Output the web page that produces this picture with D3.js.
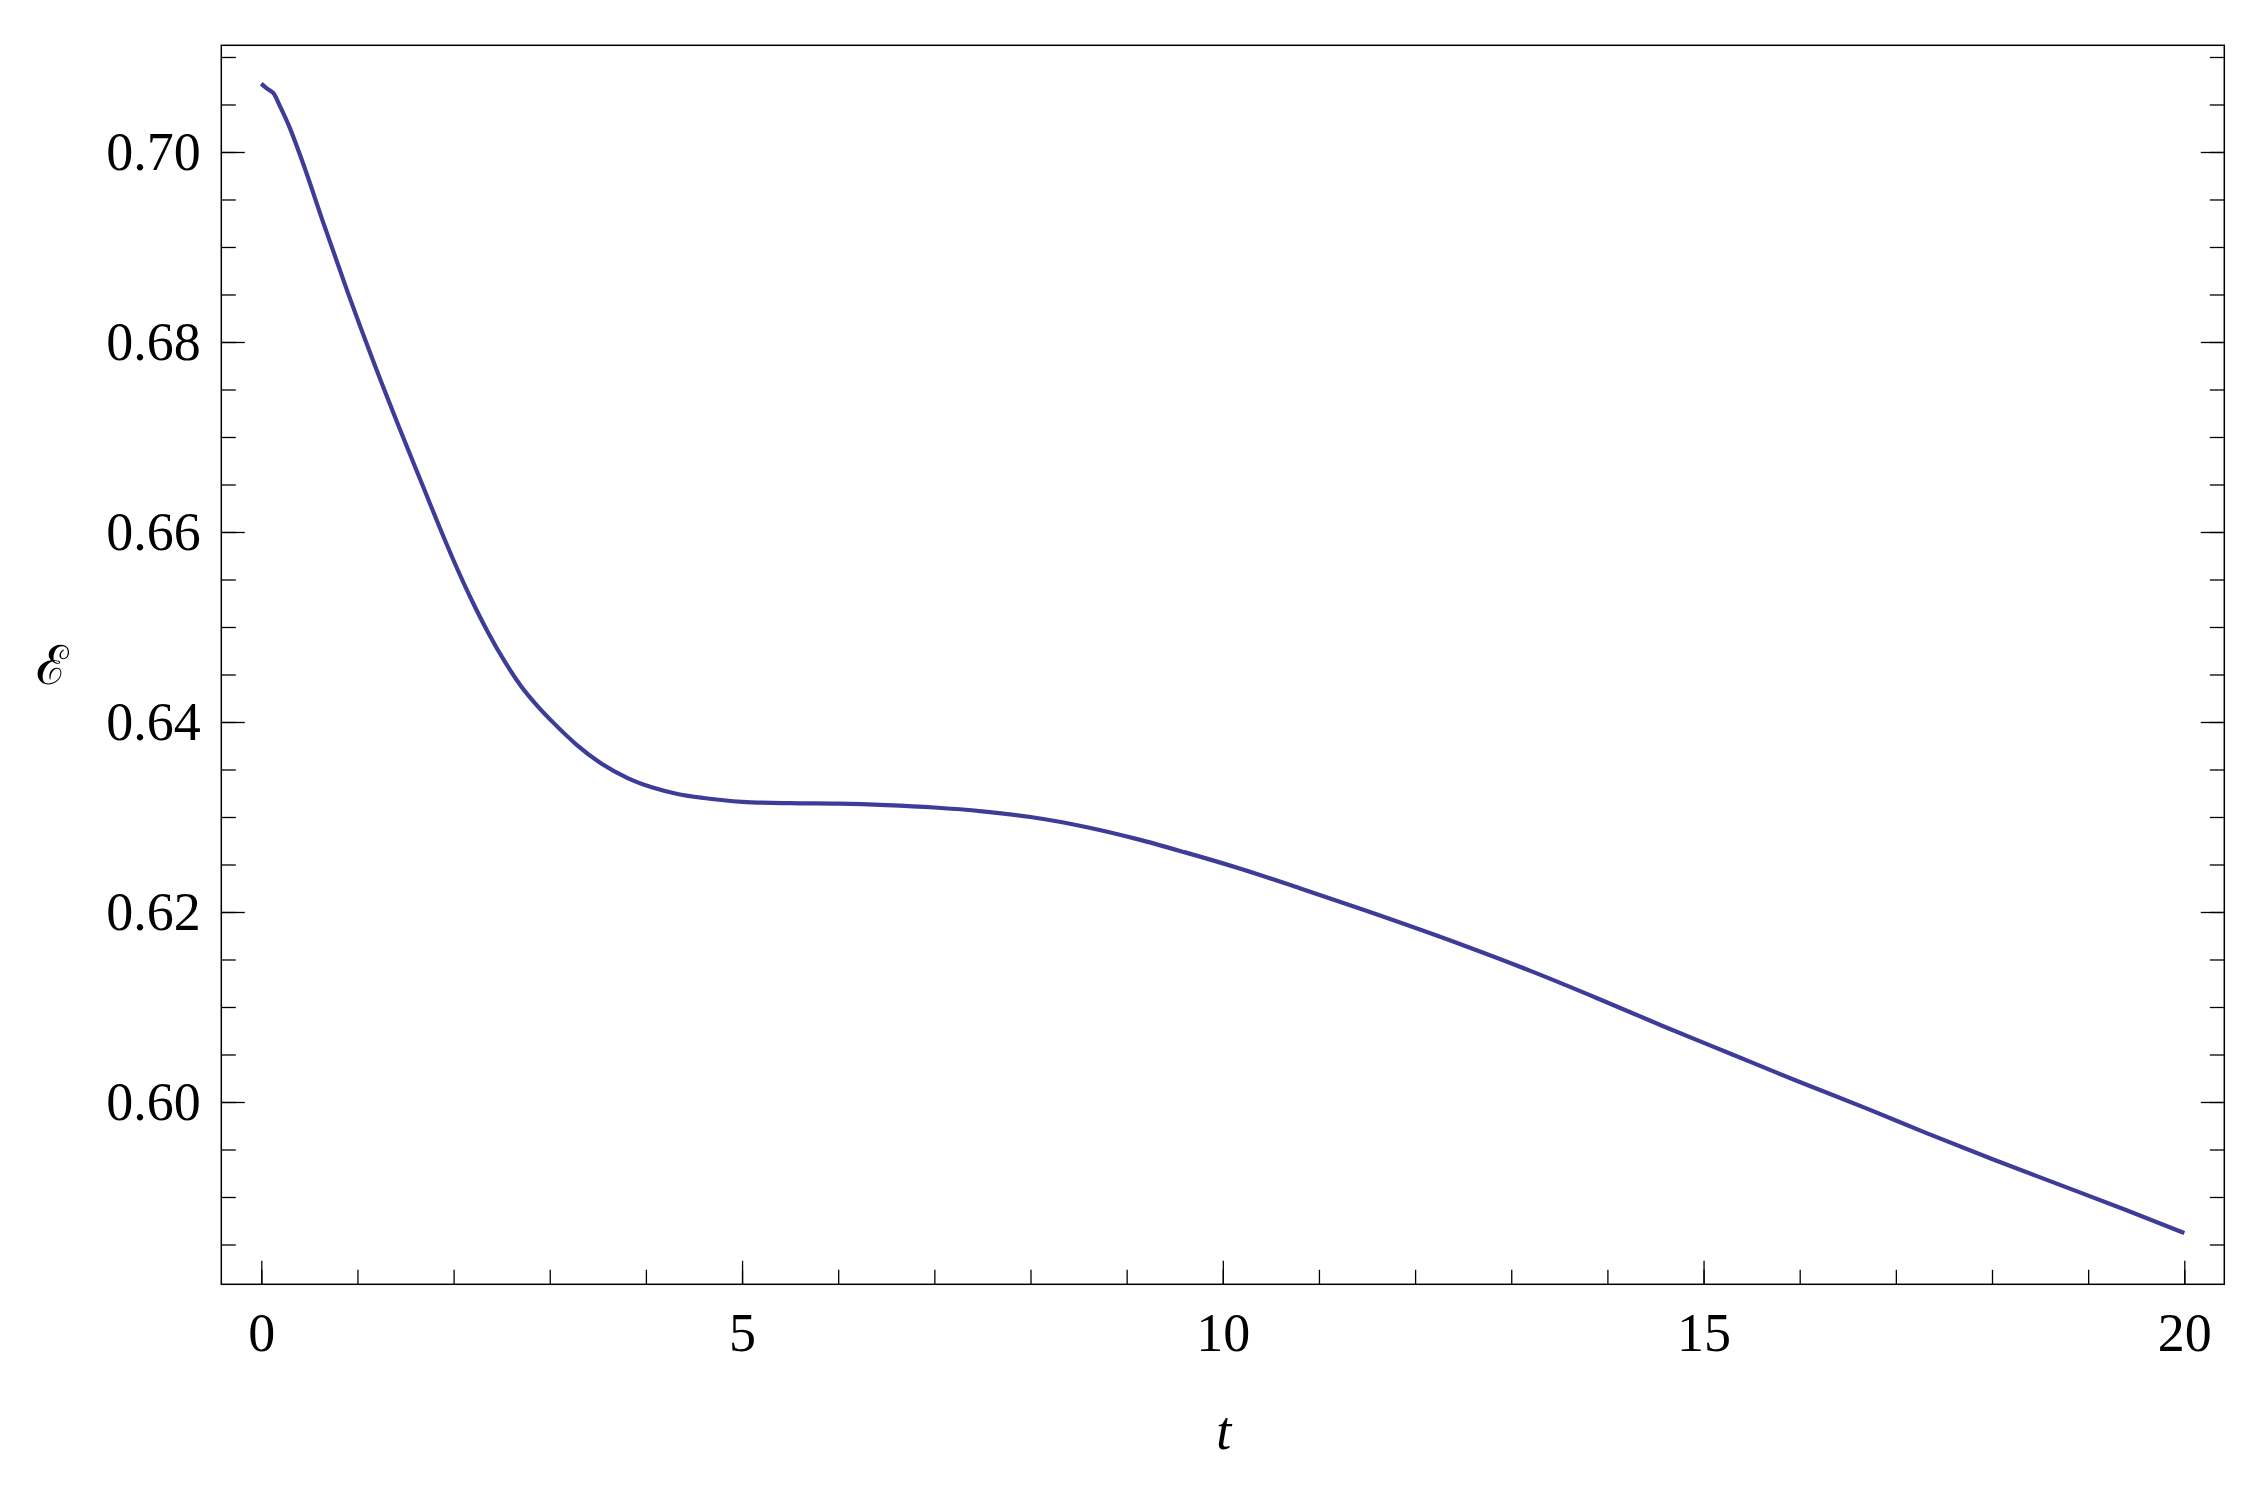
<!DOCTYPE html>
<html>
<head>
<meta charset="utf-8">
<script src="https://cdn.jsdelivr.net/npm/d3@7"></script>
<style>
  html, body { margin: 0; padding: 0; background: #fff; }
  svg { display: block; }
  text { font-family: "Liberation Serif", "Times New Roman", serif; fill: #000; }
</style>
</head>
<body>
<svg id="chart" width="2263" height="1485"></svg>
<script>
// ---- data ----
const tValues = [0, 0.06, 0.125, 0.2, 0.29, 0.42, 0.65, 0.9, 1.16, 1.43, 1.71, 1.85, 2.0, 2.18, 2.36, 2.53, 2.70, 2.88, 3.05, 3.28, 3.54, 3.81, 4.07, 4.34, 4.60, 5.0, 5.5, 6.0, 6.5, 7.0, 7.5, 8.0, 8.6, 9.1, 9.6, 10.2, 10.8, 11.5, 12.5, 13.2, 13.9, 14.6, 15.3, 16.0, 16.7, 17.3, 18.0, 18.7, 19.4, 20.0];
const eValues = [0.7072, 0.70667, 0.7062, 0.7047, 0.7027, 0.6992, 0.6924, 0.6852, 0.6781, 0.6711, 0.6641, 0.6606, 0.6570, 0.6530, 0.6494, 0.6464, 0.6438, 0.6416, 0.6398, 0.6376, 0.6356, 0.6341, 0.6331, 0.6324, 0.6320, 0.6316, 0.63145, 0.6314, 0.63125, 0.6310, 0.6306, 0.6300, 0.6289, 0.6277, 0.6263, 0.6245, 0.6225, 0.6201, 0.6165, 0.6138, 0.6109, 0.6079, 0.6050, 0.6021, 0.5993, 0.5968, 0.5940, 0.5913, 0.5886, 0.5862];

const xMajorTicks = [0, 5, 10, 15, 20];
const xTickLabels = ["0", "5", "10", "15", "20"];
const yMajorTicks = [0.60, 0.62, 0.64, 0.66, 0.68, 0.70];
const yTickLabels = ["0.60", "0.62", "0.64", "0.66", "0.68", "0.70"];
const xMinorTicks = d3.range(0, 21, 1);
const yMinorTicks = d3.range(117, 143).map(k => k * 0.005);

const xDomain = [-0.416, 20.416];
const yDomain = [0.58081, 0.71123];
const xLabel = "t";
const yLabel = "\u2130";

// ---- layout ----
const plotLeft = 221.3, plotRight = 2224.3, plotTop = 45.3, plotBottom = 1284.3;

const svg = d3.select("#chart");
const x = d3.scaleLinear().domain(xDomain).range([plotLeft, plotRight]);
const y = d3.scaleLinear().domain(yDomain).range([plotBottom, plotTop]);

const fontSize = 54;
const majorLen = 23.5, minorLen = 14.5;

// bottom axis (ticks inward)
svg.append("g").attr("transform", `translate(0,${plotBottom})`)
  .call(d3.axisBottom(x).tickValues(xMinorTicks).tickSize(-minorLen).tickFormat(""));
const gxMaj = svg.append("g").attr("transform", `translate(0,${plotBottom})`)
  .call(d3.axisBottom(x).tickValues(xMajorTicks).tickSize(-majorLen)
    .tickFormat((d, i) => xTickLabels[i]).tickPadding(0));
gxMaj.selectAll(".tick text").attr("font-size", fontSize).attr("y", 66.5).attr("dy", 0)
  .attr("font-family", "Liberation Serif");

// left axis
svg.append("g").attr("transform", `translate(${plotLeft},0)`)
  .call(d3.axisLeft(y).tickValues(yMinorTicks).tickSize(-minorLen).tickFormat(""));
const gyMaj = svg.append("g").attr("transform", `translate(${plotLeft},0)`)
  .call(d3.axisLeft(y).tickValues(yMajorTicks).tickSize(-majorLen)
    .tickFormat((d, i) => yTickLabels[i]).tickPadding(0));
gyMaj.selectAll(".tick text").attr("font-size", fontSize).attr("x", -20.5).attr("dy", 18)
  .attr("font-family", "Liberation Serif");

// right axis (mirrored ticks, no labels)
svg.append("g").attr("transform", `translate(${plotRight},0)`)
  .call(d3.axisRight(y).tickValues(yMinorTicks).tickSize(-minorLen).tickFormat(""));
svg.append("g").attr("transform", `translate(${plotRight},0)`)
  .call(d3.axisRight(y).tickValues(yMajorTicks).tickSize(-majorLen).tickFormat(""));

svg.selectAll(".domain").remove();
svg.selectAll(".tick line").attr("stroke", "#000").attr("stroke-width", 1.3);

// frame
svg.append("rect")
  .attr("x", x(xDomain[0])).attr("y", y(yDomain[1]))
  .attr("width", x(xDomain[1]) - x(xDomain[0]))
  .attr("height", y(yDomain[0]) - y(yDomain[1]))
  .attr("fill", "none").attr("stroke", "#000").attr("stroke-width", 1.5);

// curve
const data = tValues.map((t, i) => ({ t, e: eValues[i] }));
const line = d3.line().x(d => x(d.t)).y(d => y(d.e)).curve(d3.curveMonotoneX);
svg.append("path").datum(data)
  .attr("d", line)
  .attr("fill", "none")
  .attr("stroke", "rgb(61,61,153)")
  .attr("stroke-width", 4.2)
  .attr("stroke-linejoin", "round")
  .attr("stroke-linecap", "butt");

// axis labels
svg.append("text")
  .attr("x", (plotLeft + plotRight) / 2 + 1).attr("y", 1449)
  .attr("text-anchor", "middle")
  .attr("font-size", fontSize).attr("font-style", "italic")
  .text(xLabel);

svg.append("text")
  .attr("x", 52).attr("y", 684)
  .attr("text-anchor", "middle")
  .attr("font-size", fontSize)
  .attr("font-family", "DejaVu Serif")
  .text(yLabel);
</script>
</body>
</html>
